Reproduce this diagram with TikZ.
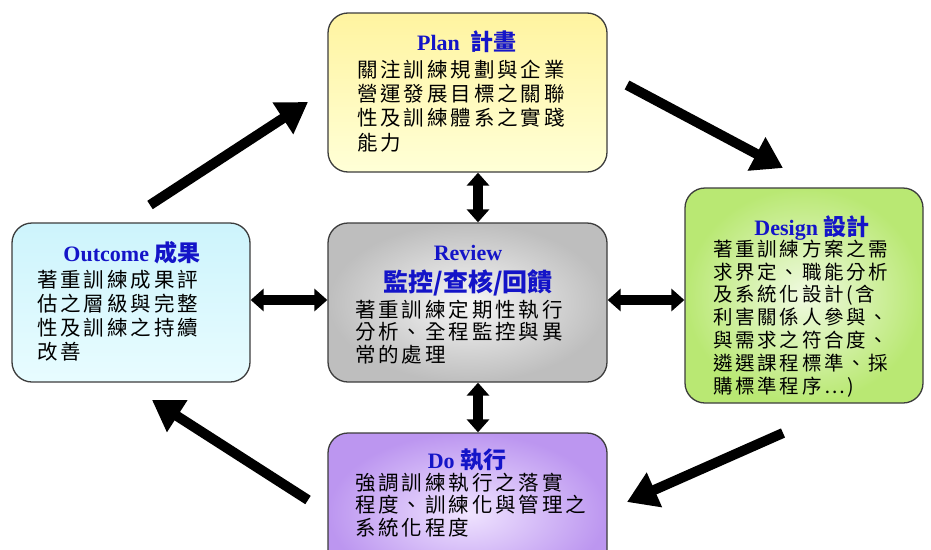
\documentclass[tikz,border=0pt]{standalone}
\usepackage{fontspec}
\usetikzlibrary{arrows.meta}
\setmainfont{Liberation Serif}
\newfontfamily\cjk{Noto Sans CJK TC}[LetterSpace=14]
\newfontfamily\cjkt{Noto Sans CJK TC}
\definecolor{ttlblue}{RGB}{20,20,200}
\definecolor{bordc}{RGB}{60,60,60}
\begin{document}
\begin{tikzpicture}[x=1pt,y=-1pt]
\useasboundingbox (0,0) rectangle (931,549);
\tikzset{
  box/.style={draw=bordc, line width=1.3pt, rounded corners=20pt},
  ttl/.style={text=ttlblue, font=\fontsize{22}{24}\selectfont\bfseries, inner sep=0pt},
  cjkttl/.style={font=\cjkt\fontsize{23}{24}\selectfont\bfseries},
  body/.style={anchor=north west, inner sep=0pt, align=left, font=\cjk\fontsize{20.5}{24.3}\selectfont},
  bigarrow/.style={line width=10pt, -{Triangle[length=30pt,width=36pt]}},
  dblarrow/.style={line width=10pt, {Triangle[length=13pt,width=22pt]}-{Triangle[length=13pt,width=22pt]}}
}
% boxes
\node[box, minimum width=279pt, minimum height=159pt, top color={rgb,255:red,255;green,244;blue,160}, bottom color={rgb,255:red,255;green,255;blue,215}] (plan) at (467.5,92.5) {};
\node[box, minimum width=238pt, minimum height=215pt, inner color={rgb,255:red,240;green,250;blue,225}, outer color={rgb,255:red,185;green,232;blue,115}] (design) at (804,295.5) {};
\node[box, minimum width=238pt, minimum height=159pt, top color={rgb,255:red,205;green,244;blue,252}, bottom color={rgb,255:red,232;green,252;blue,255}] (outcome) at (131,302.5) {};
\node[box, minimum width=279pt, minimum height=159pt, inner color={rgb,255:red,246;green,246;blue,246}, outer color={rgb,255:red,190;green,190;blue,190}] (review) at (467.5,302.5) {};
\node[box, minimum width=279pt, minimum height=159pt, inner color={rgb,255:red,240;green,228;blue,255}, outer color={rgb,255:red,188;green,150;blue,240}] (do) at (467.5,512.5) {};
% titles
\node[ttl] (plant) at (467,42) {Plan\ \ {\cjkt\fontsize{23}{24}\selectfont\bfseries 計畫}};
\node[ttl] (designt) at (812,228) {Design {\cjkt\fontsize{23}{24}\selectfont\bfseries 設計}};
\node[ttl] (outcomet) at (132,253) {Outcome {\cjkt\fontsize{23}{24}\selectfont\bfseries 成果}};
\node[ttl] (reviewt) at (468,253) {Review};
\node[ttl, cjkttl, font=\cjkt\fontsize{25}{26}\selectfont\bfseries] (reviewt2) at (468,283) {監控/查核/回饋};
\node[ttl] (dot) at (467,460) {Do {\cjkt\fontsize{23}{24}\selectfont\bfseries 執行}};
% bodies
\node[body] (planb) at (357,59.5) {關注訓練規劃與企業\\營運發展目標之關聯\\性及訓練體系之實踐\\能力};
\node[body, font=\cjk\fontsize{19.5}{22.8}\selectfont] (designb) at (713,239.5) {著重訓練方案之需\\求界定、職能分析\\及系統化設計(含\\利害關係人參與、\\與需求之符合度、\\遴選課程標準、採\\購標準程序…)};
\node[body] (outcomeb) at (37,269.5) {著重訓練成果評\\估之層級與完整\\性及訓練之持續\\改善};
\node[body, font=\cjk\fontsize{20.5}{22.5}\selectfont] (reviewb) at (355,299.5) {著重訓練定期性執行\\分析、全程監控與異\\常的處理};
\node[body, font=\cjk\fontsize{20.5}{22.5}\selectfont] (dob) at (355,472.5) {強調訓練執行之落實\\程度、訓練化與管理之\\系統化程度};
% double arrows
\draw[dblarrow] ([xshift=10.5pt]plan.south) -- ([xshift=10.5pt]review.north);
\draw[dblarrow] ([xshift=10.5pt]review.south) -- ([xshift=10.5pt]do.north);
\draw[dblarrow] ([yshift=2.5pt]outcome.east) -- ([yshift=2.5pt]review.west);
\draw[dblarrow] ([yshift=2.5pt]review.east) -- ([yshift=2.5pt]review.east -| design.west);
% cycle arrows
\coordinate (a1s) at (150,205); \coordinate (a1e) at (308,102);
\coordinate (a2s) at (627,85);  \coordinate (a2e) at (783,168);
\coordinate (a3s) at (783,433); \coordinate (a3e) at (627,502);
\coordinate (a4s) at (308,500); \coordinate (a4e) at (152,400);
\draw[bigarrow] (a1s) -- (a1e);
\draw[bigarrow] (a2s) -- (a2e);
\draw[bigarrow] (a3s) -- (a3e);
\draw[bigarrow] (a4s) -- (a4e);
\end{tikzpicture}
\end{document}
